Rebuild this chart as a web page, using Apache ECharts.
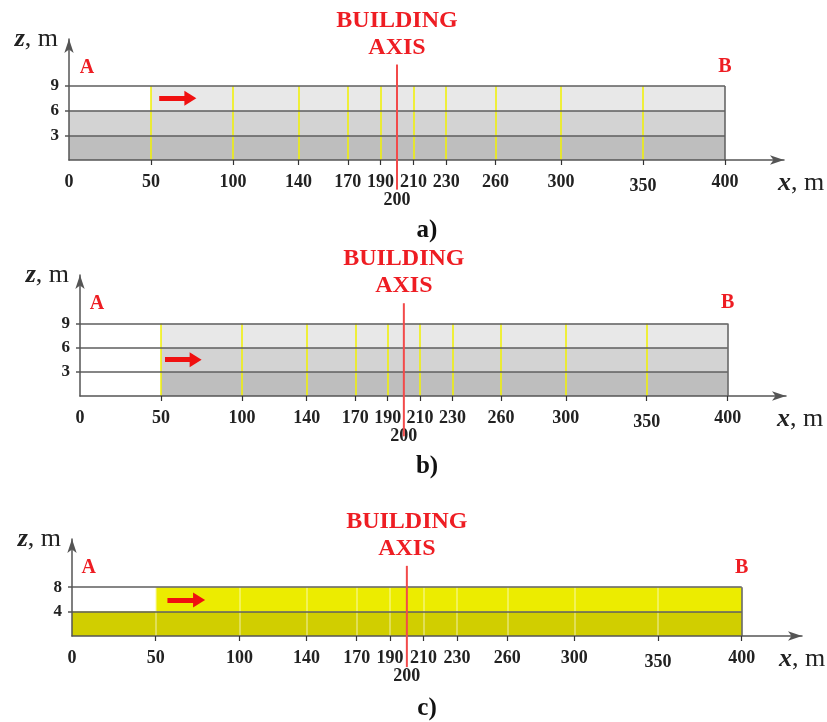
<!DOCTYPE html>
<html>
<head>
<meta charset="utf-8">
<title>Building axis sections</title>
<script src="https://cdn.jsdelivr.net/npm/echarts@6/dist/echarts.min.js"></script>
<style>
  html, body { margin: 0; background: #fff; }
  #main { width: 827px; height: 722px; }
</style>
</head>
<body>
<div id="main"></div>
<script>
// stations along A-B, m
const stations = [50, 100, 140, 170, 190, 210, 230, 260, 300, 350, 400]
const tickValues = [0, 50, 100, 140, 170, 190, 200, 210, 230, 260, 300, 350, 400]
const buildingAxis = 200
const routeEnd = 400
const panelNames = ['a)', 'b)', 'c)']
// layer boundaries, m
const levelsAB = [3, 6, 9]
const levelsC = [4, 8]
// filled layers: [x from, x to, z from, z to]
const layersA = [[0, 400, 0, 3], [0, 400, 3, 6], [50, 400, 6, 9]]
const layersB = [[50, 400, 0, 3], [50, 400, 3, 6], [50, 400, 6, 9]]
const layersC = [[0, 400, 0, 4], [50, 400, 4, 8]]

const serif = '"Liberation Serif", "Times New Roman", serif'
const grey = ['#bebebe', '#d3d3d3', '#e8e8e8']
const yellow = ['#d1ce00', '#ecec00']
const X_MAX = 436

const panels = [
  { grid: { left: 69, top: 39, width: 715, height: 121 }, ymax: 14.7, levels: levelsAB, layers: layersA, fill: grey,
    station: '#f2f200', axisZ: [-3.6, 11.6], a: [11, 11.2], b: [400, 11.3], arrow: [[55, 7.5], [74, 7.5]], nameGap: 17, title: 213 },
  { grid: { left: 80, top: 275, width: 706, height: 121 }, ymax: 15.0, levels: levelsAB, layers: layersB, fill: grey,
    station: '#f2f200', axisZ: [-5.0, 11.5], a: [10.5, 11.4], b: [400, 11.6], arrow: [[52.5, 4.5], [71.4, 4.5]], nameGap: 14, title: 449 },
  { grid: { left: 72, top: 539, width: 730, height: 97 }, ymax: 15.9, levels: levelsC, layers: layersC, fill: yellow,
    station: 'rgba(255,255,255,0.45)', axisZ: [-5.1, 11.5], a: [10, 11.2], b: [400, 11.1], arrow: [[57, 5.9], [75.9, 5.9]], nameGap: 0, title: 691 }
]

const labelFont = { fontFamily: serif, fontWeight: 'bold', fontSize: 18, color: '#222' }
const redText = { fontFamily: serif, fontWeight: 'bold', color: '#ee1d23' }

const grids = [], xAxes = [], yAxes = [], series = [], titles = []

panels.forEach((p, i) => {
  const top = p.levels[p.levels.length - 1]
  grids.push(p.grid)

  xAxes.push({
    gridIndex: i, type: 'value', min: 0, max: X_MAX, z: 6,
    axisLine: { show: true, onZero: false, symbol: ['none', 'arrow'], symbolSize: [7, 14],
      lineStyle: { color: '#555', width: 1.5 } },
    axisTick: { show: true, customValues: stations, length: 5, lineStyle: { color: '#333', width: 1.2 } },
    axisLabel: {
      customValues: tickValues, margin: 13, ...labelFont,
      formatter: v => v === buildingAxis ? '{low|' + v + '}' : v === 350 ? '{mid|' + v + '}' : String(v),
      rich: {
        low: { ...labelFont, padding: [18, 0, 0, 0] },
        mid: { ...labelFont, padding: [4, 0, 0, 0] }
      }
    },
    splitLine: { show: false },
    name: '{i|x}, m', nameLocation: 'end', nameGap: p.nameGap,
    nameTextStyle: {
      fontFamily: serif, fontSize: 26, color: '#222', align: 'center', verticalAlign: 'middle', padding: [46, 0, 0, 0],
      rich: { i: { fontFamily: serif, fontSize: 26, fontStyle: 'italic', fontWeight: 'bold', color: '#222' } }
    }
  })

  yAxes.push({
    gridIndex: i, type: 'value', min: 0, max: p.ymax, z: 6,
    axisLine: { show: true, onZero: false, symbol: ['none', 'arrow'], symbolSize: [7, 14],
      lineStyle: { color: '#555', width: 1.5 } },
    axisTick: { show: true, customValues: p.levels, length: 4, lineStyle: { color: '#555', width: 1.5 } },
    axisLabel: { customValues: p.levels, margin: 10, ...labelFont, fontSize: 17 },
    splitLine: { show: false },
    name: '{i|z}, m', nameLocation: 'end', nameGap: 0,
    nameTextStyle: {
      fontFamily: serif, fontSize: 26, color: '#222', align: 'right', verticalAlign: 'middle', padding: [0, 11, 0, 0],
      rich: { i: { fontFamily: serif, fontSize: 26, fontStyle: 'italic', fontWeight: 'bold', color: '#222' } }
    }
  })

  // layers, boundaries, station lines, flow arrow
  const lines = []
  stations.filter(s => s < routeEnd).forEach(s => {
    lines.push([{ coord: [s, 0], lineStyle: { color: p.station, width: 1.5 } }, { coord: [s, top] }])
  })
  p.levels.forEach(l => {
    lines.push([{ coord: [0, l], lineStyle: { color: '#5e5e5e', width: 1.5 } }, { coord: [routeEnd, l] }])
  })
  lines.push([{ coord: [routeEnd, 0], lineStyle: { color: '#5e5e5e', width: 1.5 } }, { coord: [routeEnd, top] }])
  lines.push([
    { coord: p.arrow[0], symbol: 'none', lineStyle: { color: '#f01010', width: 5 } },
    { coord: p.arrow[1], symbol: 'triangle', symbolSize: [15, 12] }
  ])

  series.push({
    type: 'line', xAxisIndex: i, yAxisIndex: i, data: [], silent: true,
    markArea: {
      silent: true,
      data: p.layers.map((l, k) => [
        { coord: [l[0], l[2]], itemStyle: { color: p.fill[k], borderWidth: 0 } },
        { coord: [l[1], l[3]] }
      ])
    },
    markLine: {
      silent: true, symbol: ['none', 'none'], label: { show: false },
      lineStyle: { type: 'solid' },
      data: lines
    }
  })

  // building axis with its caption and the A / B ends
  series.push({
    type: 'line', xAxisIndex: i, yAxisIndex: i, z: 7, clip: false, silent: true,
    symbol: 'circle', symbolSize: 1, showSymbol: true,
    lineStyle: { color: '#f24a4a', width: 2 }, itemStyle: { color: 'transparent' },
    data: [
      [buildingAxis, p.axisZ[0]],
      { value: [buildingAxis, p.axisZ[1]],
        label: { show: true, position: 'top', distance: 3, formatter: 'BUILDING\nAXIS', align: 'center',
          ...redText, fontSize: 24, lineHeight: 27 } }
    ],
    markPoint: {
      silent: true, symbol: 'circle', symbolSize: 1, itemStyle: { color: 'transparent' },
      label: { show: true, position: 'inside', formatter: '{b}', ...redText, fontSize: 20 },
      data: [{ name: 'A', coord: p.a }, { name: 'B', coord: p.b }]
    }
  })

  titles.push({
    text: panelNames[i], left: 422, top: p.title, textAlign: 'center',
    textStyle: { fontFamily: serif, fontWeight: 'bold', fontSize: 25, color: '#111' }
  })
})

const chart = echarts.init(document.getElementById('main'))
chart.setOption({
  animation: false,
  backgroundColor: '#fff',
  title: titles,
  grid: grids,
  xAxis: xAxes,
  yAxis: yAxes,
  series: series
})
</script>
</body>
</html>
